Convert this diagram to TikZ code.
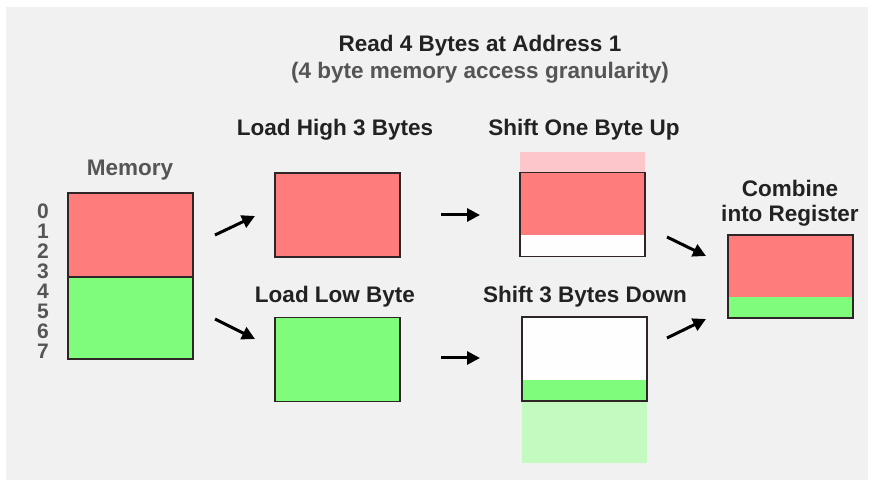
\documentclass[tikz,border=0pt]{standalone}
\usepackage{fontspec}
\setmainfont{Liberation Sans}
\usetikzlibrary{arrows.meta}
\definecolor{bg}{HTML}{F1F1F1}
\definecolor{memred}{HTML}{FF7C7C}
\definecolor{memgreen}{HTML}{80FC7C}
\definecolor{palered}{HTML}{FCC6CA}
\definecolor{palegreen}{HTML}{C2FAC0}
\definecolor{edge}{HTML}{2E2626}
\definecolor{txt}{HTML}{222222}
\definecolor{graytxt}{HTML}{555555}
\tikzset{
  box/.style={draw=edge, line width=1.6pt, minimum width=125pt, minimum height=84pt, inner sep=0pt},
  label/.style={font=\bfseries\fontsize{22.5}{25}\selectfont, text=txt, inner sep=0pt},
  glabel/.style={font=\bfseries\fontsize{22.5}{25}\selectfont, text=graytxt, inner sep=0pt},
  arr/.style={line width=3pt, -{Triangle[length=13pt,width=13pt]}, black}
}
\begin{document}
\begin{tikzpicture}[x=1pt,y=-1pt]
\useasboundingbox (0,0) rectangle (879,486);
\fill[white] (0,0) rectangle (879,486);
\fill[bg] (6,7) rectangle (868,480);

% titles
\node[label] (title) at (480,46) {Read 4 Bytes at Address 1};
\node[glabel] (subtitle) at (480,73) {(4 byte memory access granularity)};

% memory
\node[glabel] (memlbl) at (130,170) {Memory};
\fill[memred] (68,193) rectangle (193,277);
\fill[memgreen] (68,277) rectangle (193,359);
\node[draw=edge, line width=1.6pt, minimum width=125pt, minimum height=166pt, inner sep=0pt] (mem) at (130.5,276) {};
\draw[edge, line width=1.6pt] (68,277) -- (193,277);
\node[glabel, font=\bfseries\fontsize{21}{20}\selectfont, align=center, anchor=north] (addr) at (43,204)
  {0\\1\\2\\3\\4\\5\\6\\7};

% load high
\node[label] (lhlbl) at (335,130) {Load High 3 Bytes};
\node[box, fill=memred] (lh) at (337.5,215) {};
% load low
\node[label] (lllbl) at (335,297) {Load Low Byte};
\node[box, fill=memgreen] (ll) at (337.5,359.5) {};

% shift up
\node[label] (sulbl) at (584,130) {Shift One Byte Up};
\fill[palered] (520,152) rectangle (645,173);
\fill[memred] (520,173) rectangle (645,235);
\fill[white!96!bg] (520,235) rectangle (645,256);
\node[box] (su) at (582.5,214.5) {};

% shift down
\node[label] (sdlbl) at (585,297) {Shift 3 Bytes Down};
\fill[white!96!bg] (522,318) rectangle (647,380);
\fill[memgreen] (522,380) rectangle (647,400);
\fill[palegreen] (522,400) rectangle (647,463);
\node[box] (sd) at (584.5,359) {};

% combine
\node[label, align=center] (cblbl) at (790,203) {Combine\\into Register};
\fill[memred] (728,235) rectangle (853,297);
\fill[memgreen] (728,297) rectangle (853,318);
\node[box, minimum height=83pt] (cb) at (790.5,276.5) {};

% arrow endpoints
\coordinate (a1s) at (215,235); \coordinate (a1e) at (255,216);
\coordinate (a2s) at (215,319); \coordinate (a2e) at (255,339);
\coordinate (a3s) at (441,215); \coordinate (a3e) at (480,215);
\coordinate (a4s) at (441,358); \coordinate (a4e) at (480,358);
\coordinate (a5s) at (667,237); \coordinate (a5e) at (706,256);
\coordinate (a6s) at (667,338); \coordinate (a6e) at (706,319);
\draw[arr] (a1s) -- (a1e);
\draw[arr] (a2s) -- (a2e);
\draw[arr] (a3s) -- (a3e);
\draw[arr] (a4s) -- (a4e);
\draw[arr] (a5s) -- (a5e);
\draw[arr] (a6s) -- (a6e);
\end{tikzpicture}
\end{document}
